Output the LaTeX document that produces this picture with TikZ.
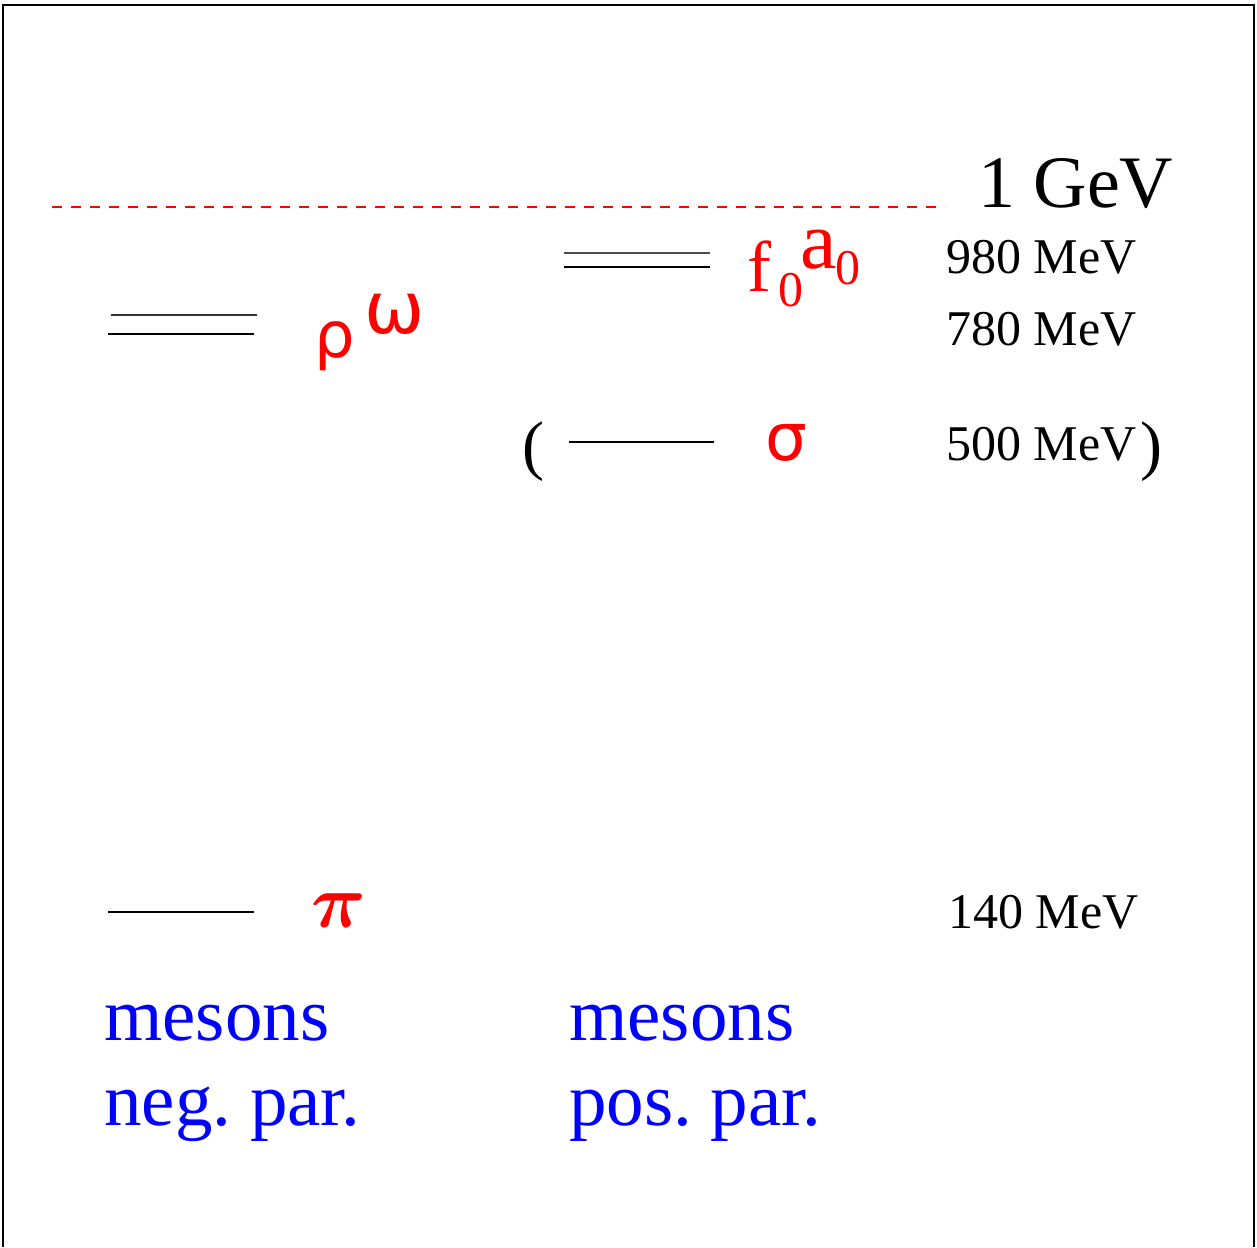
\documentclass[tikz,border=0pt]{standalone}
\usepackage{fix-cm}
\usepackage{fontspec}
\setmainfont{Liberation Serif}
\newfontfamily\grk{DejaVu Sans}
\newcommand{\fs}[1]{\fontsize{#1}{#1}\selectfont}
\newcommand{\pisym}{\ensuremath{\pi}}
\frenchspacing
\begin{document}
\begin{tikzpicture}[x=1pt,y=-1pt,
  lbl/.style={inner sep=0pt,anchor=base west},
  lvl/.style={line width=1.3pt,black},
  blu/.style={text=blue,inner sep=0pt,anchor=base west,font=\fs{75}}]
\useasboundingbox (0,0) rectangle (1257,1247);
% frame
\draw[line width=2pt] (2.5,1247) -- (2.5,5.5) -- (1253.5,5.5) -- (1253.5,1247);
% 1 GeV line
\coordinate (d1) at (52,207);
\coordinate (d2) at (945,207);
\draw[color=red,line width=1.2pt,dash pattern=on 10pt off 9pt] (d1) -- (d2);
\node[lbl,font=\fs{74}] (gev) at (978,207) {1 GeV};
% f0 a0
\coordinate (fa1) at (564,253); \coordinate (fa2) at (710,253);
\coordinate (fb1) at (564,267); \coordinate (fb2) at (710,267);
\draw[lvl,black!70] (fa1) -- (fa2);
\draw[lvl] (fb1) -- (fb2);
\node[lbl,text=red,font=\fs{72}] (f) at (747,291) {f};
\node[lbl,text=red,font=\fs{50}] (f0) at (778,306) {0};
\node[lbl,text=red,font=\fs{82}] (a) at (800,268) {a};
\node[lbl,text=red,font=\fs{50}] (a0) at (835,284) {0};
\node[lbl,font=\fs{50}] (m980) at (946,273) {980 MeV};
\node[lbl,font=\fs{50}] (m780) at (946,345) {780 MeV};
% rho omega
\coordinate (ra1) at (111,315); \coordinate (ra2) at (257,315);
\coordinate (rb1) at (108,334); \coordinate (rb2) at (254,334);
\draw[lvl,black!80] (ra1) -- (ra2);
\draw[lvl] (rb1) -- (rb2);
\node[lbl,text=red,font=\grk\fs{64}] (rho) at (314,357) {ρ};
\node[lbl,text=red,font=\grk\fs{72}] (omega) at (364,333) {ω};
% sigma
\node[lbl,font=\fs{66}] (lp) at (522,467) {(};
\coordinate (s1) at (569,442); \coordinate (s2) at (714,442);
\draw[lvl] (s1) -- (s2);
\node[lbl,text=red,font=\grk\fs{66}] (sigma) at (765,460) {σ};
\node[lbl,font=\fs{50}] (m500) at (946,460) {500 MeV};
\node[lbl,font=\fs{66}] (rp) at (1140,467) {)};
% pi
\coordinate (p1) at (108,912); \coordinate (p2) at (254,912);
\draw[lvl] (p1) -- (p2);
\node[lbl,text=red,font=\fs{76}\boldmath] (pi) at (311,927) {\pisym};
\node[lbl,font=\fs{50}] (m140) at (948,928) {140 MeV};
% captions
\node[blu] (mesL) at (104,1040) {mesons};
\node[blu] (negL) at (104,1125) {neg. par.};
\node[blu] (mesR) at (569,1040) {mesons};
\node[blu] (posR) at (569,1125) {pos. par.};
\end{tikzpicture}
\end{document}
